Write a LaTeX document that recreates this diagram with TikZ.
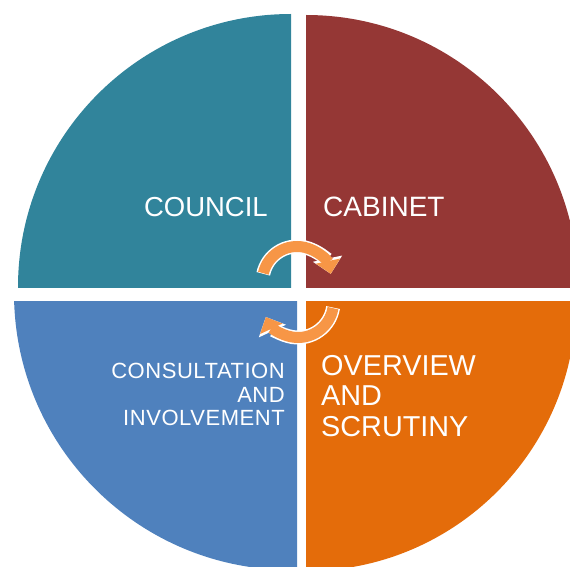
\documentclass[tikz,border=0pt]{standalone}
\usepackage{fontspec}
\setmainfont{Liberation Sans}
\usepackage{tikz}
\usetikzlibrary{arrows.meta}
\definecolor{councilteal}{HTML}{31849B}
\definecolor{cabinetred}{HTML}{953735}
\definecolor{consultblue}{HTML}{4F81BD}
\definecolor{scrutinyorange}{HTML}{E46C0A}
\definecolor{cyclearrow}{HTML}{F79646}

\begin{document}
\begin{tikzpicture} [x = 1pt, y = 1pt,
  quadtext/.style = {text = white, inner sep = 0pt},
  cyclebody/.style = {line width = 11pt, cyclearrow, -{Triangle[width = 24pt, length = 13pt]}},
  cycleedge/.style = {line width = 14pt, white, -{Triangle[width = 29pt, length = 15.5pt]}}]
\useasboundingbox (0,0) rectangle (570,566);
\begin{scope}
\clip (0,279) rectangle (291,566);
\fill[councilteal] (291,279) circle[radius = 273];
\end{scope}
\begin{scope}
\clip (306,279) rectangle (570,566);
\fill[cabinetred] (306,279) circle[radius = 272];
\end{scope}
\begin{scope}
\clip (0,0) rectangle (297,265);
\fill[consultblue] (291,273) circle[radius = 277];
\end{scope}
\begin{scope}
\clip (306,0) rectangle (570,265);
\fill[scrutinyorange] (306,265) circle[radius = 270];
\end{scope}
\draw[cycleedge] (297,285) ++(168:34.5) arc[start angle = 168, end angle = 12, radius = 34.5];
\draw[cyclebody] (297,285) ++(167:34.5) arc[start angle = 167, end angle = 12, radius = 34.5];
\draw[cycleedge] (298,264) ++(-9:35.5) arc[start angle = -9, end angle = -155, radius = 35.5];
\draw[cyclebody] (298,264) ++(-10:35.5) arc[start angle = -10, end angle = -155, radius = 35.5];
\node[quadtext, font = \fontsize{27.5}{33}\selectfont, anchor = base east] (council) at (268,349) {COUNCIL};
\node[quadtext, font = \fontsize{28}{33}\selectfont, anchor = base west] (cabinet) at (323,349) {CABINET};
\node[quadtext, font = \fontsize{22}{23.5}\selectfont\addfontfeatures{LetterSpace = 2.5}, align = right, anchor = north east] (consultation) at (285,203) {CONSULTATION\\AND\\INVOLVEMENT};
\node[quadtext, font = \fontsize{28.8}{30.5}\selectfont, align = left, anchor = north west] (scrutiny) at (321,211) {OVERVIEW\\AND\\SCRUTINY};
\end{tikzpicture}
\end{document}
